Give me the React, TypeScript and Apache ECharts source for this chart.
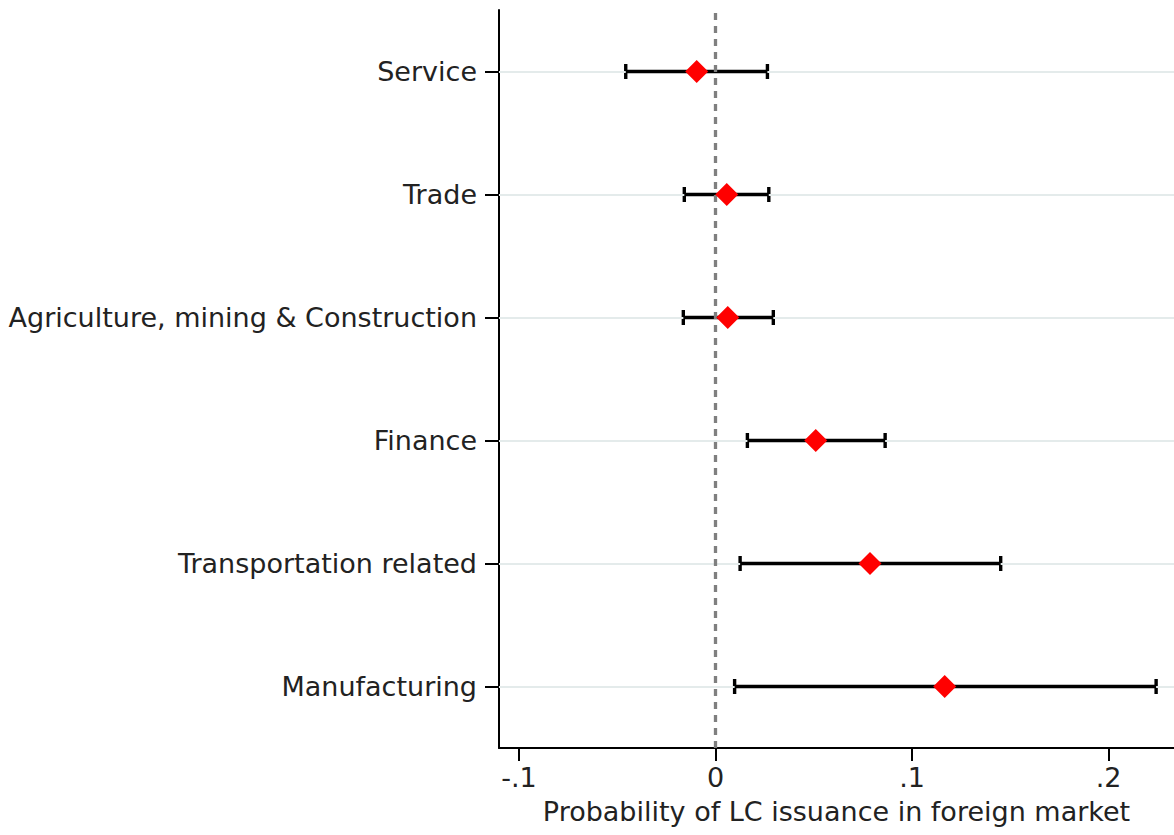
import React, { useEffect, useRef } from "react";
import * as echarts from "echarts";

// Sectors listed bottom-to-top, as the category axis stacks them
const categories = [
  "Manufacturing",
  "Transportation related",
  "Finance",
  "Agriculture, mining & Construction",
  "Trade",
  "Service",
];

// Point estimates and 95% confidence bounds
const estimates = [0.1166, 0.0786, 0.051, 0.0062, 0.0057, -0.0096];
const lowerBounds = [0.0097, 0.0125, 0.0162, -0.0164, -0.0159, -0.0457];
const upperBounds = [0.2242, 0.1451, 0.0863, 0.0294, 0.0271, 0.0264];

const xTickValues = [-0.1, 0, 0.1, 0.2];
const xTickLabels = ["-.1", "0", ".1", ".2"];
const xMin = -0.1102;
const xMax = 0.2333;

const TEXT = "#222222";
const FONT = "DejaVu Sans, Verdana, sans-serif";

export default function App() {
  const ref = useRef<HTMLDivElement>(null);

  useEffect(() => {
    if (!ref.current) return;
    const chart = echarts.init(ref.current, null, { renderer: "svg" });

    const pointData = categories.map((_, i) => [estimates[i], i]);
    const capData = categories.flatMap((_, i) => [
      [lowerBounds[i], i],
      [upperBounds[i], i],
    ]);
    const whiskers = categories.map((_, i) => [
      { coord: [lowerBounds[i], i] },
      { coord: [upperBounds[i], i] },
    ]);

    chart.setOption({
      animation: false,
      backgroundColor: "#ffffff",
      textStyle: { fontFamily: FONT },
      grid: { left: 499, right: 0, top: 10, bottom: 87, containLabel: false },
      xAxis: {
        type: "value",
        min: xMin,
        max: xMax,
        name: "Probability of LC issuance in foreign market",
        nameLocation: "middle",
        nameGap: 50,
        nameTextStyle: { fontSize: 27, color: TEXT, fontFamily: FONT },
        splitLine: { show: false },
        axisLine: { show: true, onZero: false, lineStyle: { color: "#000", width: 2 } },
        axisTick: {
          show: true,
          length: 13,
          customValues: xTickValues,
          lineStyle: { color: "#000", width: 2 },
        },
        axisLabel: {
          customValues: xTickValues,
          fontSize: 27,
          color: TEXT,
          fontFamily: FONT,
          margin: 16,
          formatter: (v: number) => {
            const k = xTickValues.findIndex((t) => Math.abs(t - v) < 1e-9);
            return k >= 0 ? xTickLabels[k] : "";
          },
        },
      },
      yAxis: {
        type: "category",
        data: categories,
        axisLine: { show: true, onZero: false, lineStyle: { color: "#000", width: 2 } },
        axisTick: {
          show: true,
          alignWithLabel: true,
          length: 14,
          lineStyle: { color: "#000", width: 2 },
        },
        axisLabel: { fontSize: 27, color: TEXT, fontFamily: FONT, margin: 22 },
        splitLine: { show: false },
      },
      series: [
        {
          // light horizontal guide at each sector
          type: "scatter",
          data: [],
          z: 0,
          silent: true,
          markLine: {
            silent: true,
            symbol: "none",
            label: { show: false },
            lineStyle: { color: "#e4ebeb", width: 2, type: "solid" },
            data: categories.map((c) => ({ yAxis: c })),
          },
        },
        {
          // confidence interval whiskers with end caps
          type: "scatter",
          z: 2,
          silent: true,
          data: capData,
          symbol: "rect",
          symbolSize: [3.4, 15],
          itemStyle: { color: "#000000", opacity: 1 },
          markLine: {
            silent: true,
            symbol: "none",
            label: { show: false },
            lineStyle: { color: "#000000", width: 3.4, type: "solid" },
            data: whiskers,
          },
        },
        {
          // reference line at zero effect
          type: "scatter",
          data: [],
          z: 3,
          silent: true,
          markLine: {
            silent: true,
            symbol: "none",
            label: { show: false },
            lineStyle: { color: "#7f7f7f", width: 3.3, type: [7, 6] },
            data: [{ xAxis: 0 }],
          },
        },
        {
          type: "scatter",
          z: 5,
          data: pointData,
          symbol: "diamond",
          symbolSize: 23,
          itemStyle: { color: "#ff0000", opacity: 1 },
        },
      ],
    });

    return () => chart.dispose();
  }, []);

  return (
    <div
      ref={ref}
      style={{ position: "absolute", left: 0, top: 0, width: 1174, height: 835 }}
    />
  );
}
